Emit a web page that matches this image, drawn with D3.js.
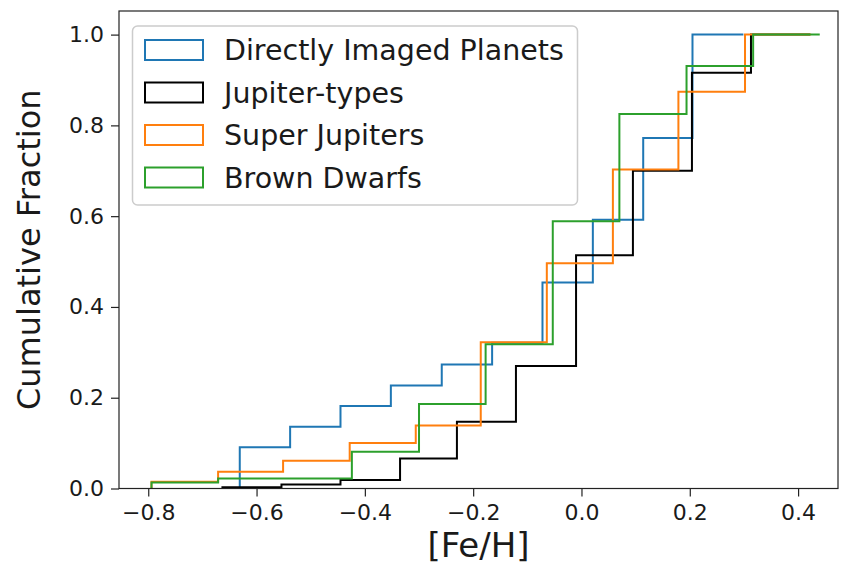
<!DOCTYPE html>
<html>
<head>
<meta charset="utf-8">
<script src="https://cdn.jsdelivr.net/npm/d3@7"></script>
<style>
  body { margin: 0; background: #fff; }
  text { font-family: "DejaVu Sans", sans-serif; fill: #1a1a1a; }
</style>
</head>
<body>
<div id="chart"></div>
<script>
// series: bin edges and cumulative fraction per bin
var seriesNames = ["Directly Imaged Planets", "Jupiter-types", "Super Jupiters", "Brown Dwarfs"];
var seriesColors = ["#1f77b4", "#000000", "#ff7f0e", "#2ca02c"];

var blueEdges = [-0.631, -0.538, -0.445, -0.352, -0.258, -0.165, -0.072, 0.021, 0.114, 0.205, 0.299];
var blueCum = [0.091, 0.136, 0.182, 0.227, 0.273, 0.321, 0.454, 0.592, 0.772, 1.0];

var blackEdges = [-0.663, -0.554, -0.445, -0.335, -0.230, -0.121, -0.010, 0.095, 0.204, 0.313, 0.422];
var blackCum = [0.003, 0.009, 0.019, 0.066, 0.147, 0.270, 0.514, 0.700, 0.916, 1.0];

var orangeEdges = [-0.794, -0.671, -0.551, -0.428, -0.306, -0.186, -0.064, 0.058, 0.179, 0.302, 0.424];
var orangeCum = [0.015, 0.037, 0.061, 0.100, 0.139, 0.322, 0.496, 0.703, 0.874, 1.0];

var greenEdges = [-0.794, -0.671, -0.547, -0.424, -0.300, -0.177, -0.053, 0.070, 0.194, 0.317, 0.440];
var greenCum = [0.013, 0.022, 0.022, 0.081, 0.186, 0.318, 0.589, 0.825, 0.931, 1.0];

var xTicks = [-0.8, -0.6, -0.4, -0.2, 0.0, 0.2, 0.4];
var yTicks = [0.0, 0.2, 0.4, 0.6, 0.8, 1.0];

var svgWidth = 845;
var svgHeight = 574;

var margin = {
  top: 11,
  right: 7,
  bottom: 85.5,
  left: 119
};

var width = svgWidth - margin.left - margin.right;
var height = svgHeight - margin.top - margin.bottom;

var svg = d3.select("#chart")
  .append("svg")
  .attr("width", svgWidth)
  .attr("height", svgHeight);

var chartGroup = svg.append("g")
  .attr("transform", `translate(${margin.left}, ${margin.top})`);

var xScale = d3.scaleLinear()
  .domain([-0.854, 0.4737])
  .range([0, width]);

var yScale = d3.scaleLinear()
  .domain([0, 1.052])
  .range([height, 0]);

var fmt = function(d) { return d3.format(".1f")(d).replace("-", "\u2212"); };

// axes
var bottomAxis = d3.axisBottom(xScale).tickValues(xTicks).tickFormat(fmt).tickSizeOuter(0).tickSize(8).tickPadding(8);
var leftAxis = d3.axisLeft(yScale).tickValues(yTicks).tickFormat(fmt).tickSizeOuter(0).tickSize(8).tickPadding(7);

var xAxisG = chartGroup.append("g")
  .attr("transform", `translate(0, ${height})`)
  .call(bottomAxis);

var yAxisG = chartGroup.append("g")
  .call(leftAxis);

[xAxisG, yAxisG].forEach(function(g) {
  g.select(".domain").remove();
  g.selectAll(".tick line").attr("stroke", "#222").attr("stroke-width", 1.2);
  g.selectAll(".tick text")
    .attr("fill", "#1a1a1a")
    .style("font-family", "DejaVu Sans")
    .style("font-size", "22px");
});

// step lines
var seriesData = [
  { edges: blueEdges, cum: blueCum },
  { edges: blackEdges, cum: blackCum },
  { edges: orangeEdges, cum: orangeCum },
  { edges: greenEdges, cum: greenCum }
];

var line = d3.line()
  .x(d => xScale(d[0]))
  .y(d => yScale(d[1]));

seriesData.forEach(function(s, i) {
  var pts = [[s.edges[0], 0]];
  s.cum.forEach(function(c, j) {
    pts.push([s.edges[j], c]);
    pts.push([s.edges[j + 1], c]);
  });
  chartGroup.append("path")
    .attr("d", line(pts))
    .attr("fill", "none")
    .attr("stroke", seriesColors[i])
    .attr("stroke-width", 2)
    .attr("stroke-linejoin", "miter");
});

// frame
chartGroup.append("rect")
  .attr("width", width)
  .attr("height", height)
  .attr("fill", "none")
  .attr("stroke", "#222")
  .attr("stroke-width", 1.2);

// legend
var legend = svg.append("g");
legend.append("rect")
  .attr("x", 132.5)
  .attr("y", 26)
  .attr("width", 445)
  .attr("height", 179)
  .attr("rx", 5)
  .attr("fill", "#fff")
  .attr("fill-opacity", 0.8)
  .attr("stroke", "#cccccc")
  .attr("stroke-width", 1.5);

var rowY = d3.scaleLinear().domain([0, 3]).range([50, 177.5]);

seriesNames.forEach(function(name, i) {
  legend.append("rect")
    .attr("x", 145)
    .attr("y", rowY(i) - 10)
    .attr("width", 58)
    .attr("height", 20)
    .attr("fill", "none")
    .attr("stroke", seriesColors[i])
    .attr("stroke-width", 2);
  legend.append("text")
    .attr("x", 224)
    .attr("y", rowY(i) + 10)
    .style("font-size", "28.5px")
    .text(name);
});

// axis labels
chartGroup.append("text")
  .attr("transform", "rotate(-90)")
  .attr("x", 0 - height / 2)
  .attr("y", 0 - margin.left + 40)
  .attr("text-anchor", "middle")
  .style("font-size", "32px")
  .text("Cumulative Fraction");

chartGroup.append("text")
  .attr("x", width / 2)
  .attr("y", height + 68)
  .attr("text-anchor", "middle")
  .style("font-size", "34px")
  .text("[Fe/H]");
</script>
</body>
</html>
